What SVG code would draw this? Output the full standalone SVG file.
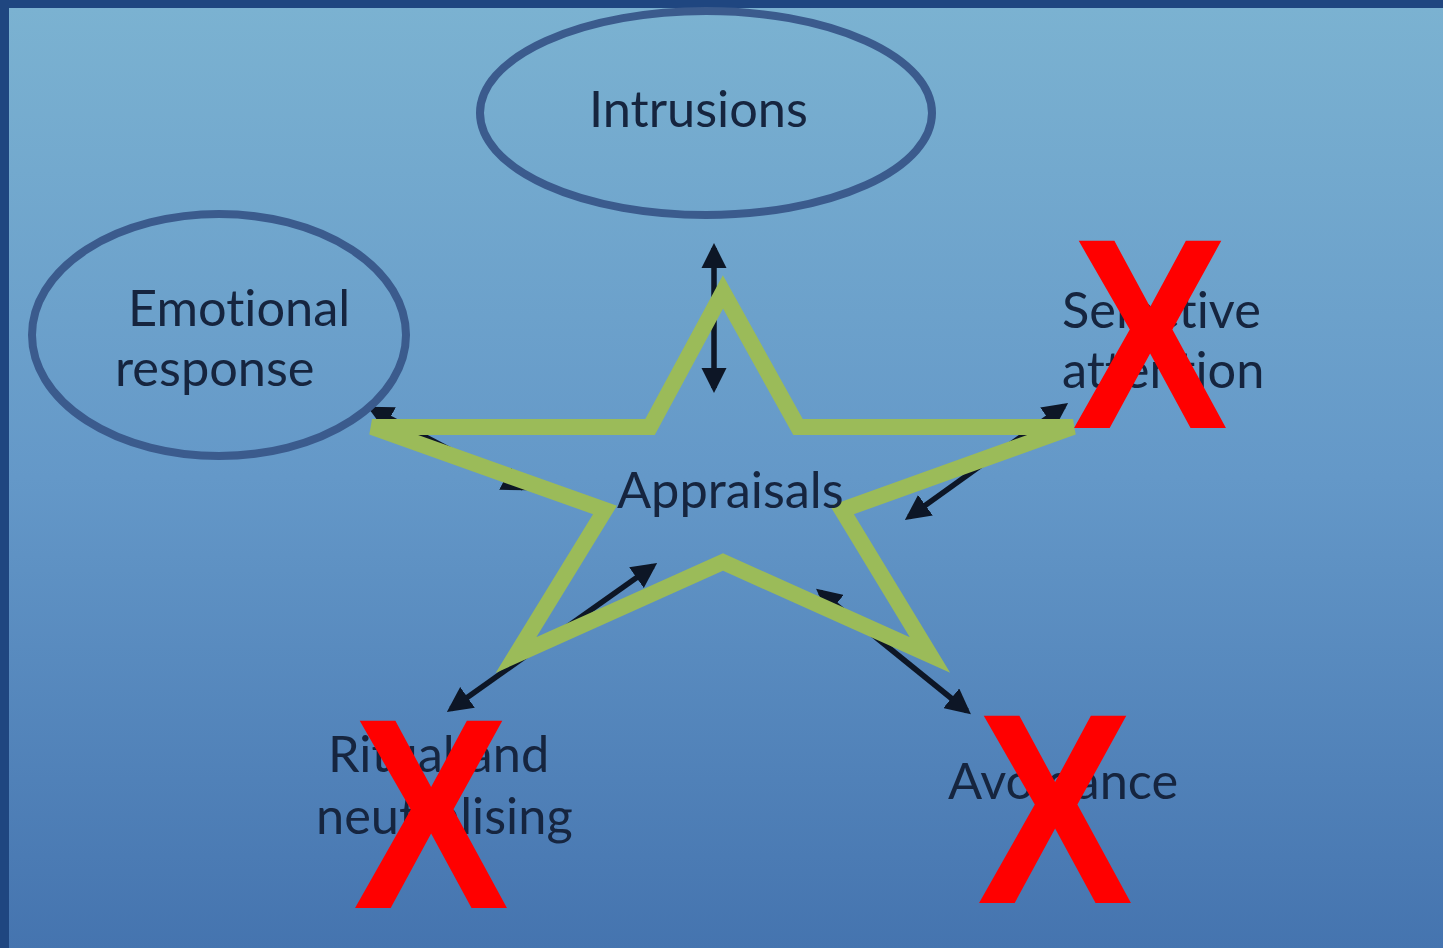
<svg xmlns="http://www.w3.org/2000/svg" width="1443" height="948" viewBox="0 0 1443 948">
<defs>
<linearGradient id="bg" x1="0" y1="0" x2="0" y2="1">
<stop offset="0" stop-color="#7bb2d1"/>
<stop offset="0.5" stop-color="#6498c8"/>
<stop offset="1" stop-color="#4574af"/>
</linearGradient>
<marker id="ah" viewBox="0 0 10 10" refX="8" refY="5" markerWidth="4.6" markerHeight="4.6" orient="auto-start-reverse" markerUnits="strokeWidth">
<path d="M0,0 L10,5 L0,10 z" fill="#0d1626"/>
</marker>
<style>
.lbl{font-family:Lato,"Open Sans","Liberation Sans",sans-serif;font-size:50.5px;fill:#16253f;font-variant-ligatures:none}
.ell{fill:none;stroke:#3b5b8d;stroke-width:8}
.con{stroke:#0d1626;stroke-width:5.5;fill:none}
.x{font-family:"Liberation Sans",Arial,sans-serif;font-weight:bold;font-size:272px;fill:#ff0000}
</style>
</defs>
<rect x="0" y="0" width="1443" height="948" fill="#1f4680"/>
<rect x="9" y="8" width="1434" height="940" fill="url(#bg)"/>
<g id="connectors">
<line class="con" x1="714" y1="248" x2="714" y2="388" marker-start="url(#ah)" marker-end="url(#ah)"/>
<line class="con" x1="372" y1="409" x2="523" y2="488" marker-start="url(#ah)" marker-end="url(#ah)"/>
<line class="con" x1="909" y1="517" x2="1064" y2="406" marker-start="url(#ah)" marker-end="url(#ah)"/>
<line class="con" x1="653" y1="566" x2="451" y2="709" marker-start="url(#ah)" marker-end="url(#ah)"/>
<line class="con" x1="820" y1="592" x2="967" y2="711" marker-start="url(#ah)" marker-end="url(#ah)"/>
</g>
<g id="intrusions">
<ellipse class="ell" cx="706" cy="113" rx="226" ry="102"/>
<text class="lbl" x="589" y="127">Intrusions</text>
</g>
<g id="emotional-response">
<ellipse class="ell" cx="219" cy="335" rx="187" ry="121"/>
<text class="lbl" x="128" y="326">Emotional</text>
<text class="lbl" x="115" y="386">response</text>
</g>
<g id="selective-attention">
<text class="lbl" x="1062" y="328">Selective</text>
<text class="lbl" x="1062" y="388">attention</text>
</g>
<g id="ritual">
<text class="lbl" x="328" y="772">Ritual and</text>
<text class="lbl" x="316" y="834">neutralising</text>
</g>
<g id="avoidance">
<text class="lbl" x="948" y="799">Avoidance</text>
</g>
<g id="appraisals">
<polygon points="723,292 798,427 1073,427 842,510 930,655 723,562 516,655 605,510 372,427 650,427" fill="none" stroke="#9bbb59" stroke-width="16" stroke-linejoin="miter"/>
<text class="lbl" x="617" y="508">Appraisals</text>
</g>
<g id="crosses">
<text class="x" transform="translate(1150,428) scale(0.86,1)" text-anchor="middle">X</text>
<text class="x" transform="translate(431,908) scale(0.86,1)" text-anchor="middle">X</text>
<text class="x" transform="translate(1055,903) scale(0.86,1)" text-anchor="middle">X</text>
</g>
</svg>
